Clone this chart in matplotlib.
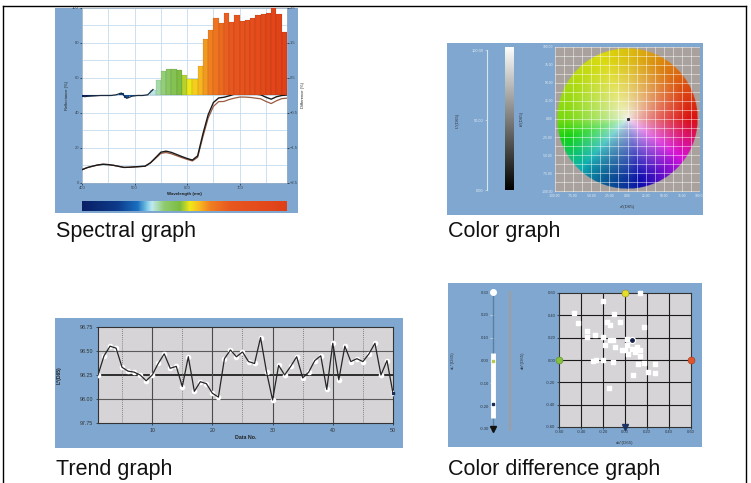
import numpy as np
import matplotlib.pyplot as plt
from matplotlib.colors import LinearSegmentedColormap, Normalize, hsv_to_rgb
from matplotlib.patches import Rectangle
from matplotlib.lines import Line2D

plt.rcParams['font.family'] = ['Liberation Sans', 'DejaVu Sans']

# ---------------- data ----------------
wavelengths = list(range(400, 800, 10))
refl_sample = [7.6, 8.8, 9.6, 10.3, 10.7, 10.5, 10.1, 9.5, 8.9, 9.0,
               9.2, 9.4, 9.6, 11.5, 14.5, 17.6, 18.2, 17.5, 16.3, 15.1,
               14.0, 13.1, 15.5, 28.0, 39.0, 46.0, 48.6, 49.0, 49.8, 50.8,
               51.2, 51.2, 51.1, 50.8, 50.4, 49.0, 47.9, 49.3, 50.0, 50.3]
refl_target = [7.6, 8.8, 9.6, 10.3, 10.7, 10.5, 10.1, 9.5, 8.9, 9.0,
               9.2, 9.4, 9.6, 11.4, 14.1, 16.9, 17.4, 16.7, 15.6, 14.5,
               13.5, 12.6, 14.7, 26.4, 37.1, 43.8, 46.5, 46.6, 47.7, 48.5,
               49.1, 49.1, 48.9, 48.5, 48.1, 46.6, 45.4, 47.0, 48.2, 48.5]
bar_wl = list(range(400, 790, 10))
diff = [-0.03, -0.02, -0.01, 0.0, 0.0, 0.0, 0.02, 0.07, -0.08, -0.02,
        0.0, 0.0, 0.02, 0.17, 0.43, 0.69, 0.76, 0.76, 0.72, 0.59,
        0.48, 0.48, 0.83, 1.61, 1.86, 2.20, 2.06, 2.37, 2.10, 2.31,
        2.12, 2.15, 2.20, 2.31, 2.34, 2.37, 2.49, 2.34, 1.82]

data_no = list(range(1, 51))
trend_L = [98.25, 98.45, 98.55, 98.53, 98.33, 98.29, 98.28, 98.25, 98.19, 98.25,
           98.37, 98.47, 98.32, 98.34, 98.13, 98.44, 98.08, 98.18, 98.16, 98.06,
           98.02, 98.42, 98.51, 98.44, 98.49, 98.39, 98.37, 98.64, 98.28, 97.99,
           98.35, 98.25, 98.34, 98.44, 98.22, 98.28, 98.40, 98.45, 98.10, 98.58,
           98.20, 98.55, 98.39, 98.42, 98.39, 98.47, 98.58, 98.25, 98.40, 98.06]
trend_yticks = [97.75, 98.00, 98.25, 98.50, 98.75]

da = [-0.20, -0.46, -0.43, -0.10, -0.16, -0.14, -0.05, 0.17, -0.35, -0.27,
      -0.35, -0.20, -0.14, -0.11, -0.18, -0.09, 0.02, 0.02, 0.06, 0.11,
      0.14, 0.00, -0.03, 0.09, 0.03, 0.14, -0.26, -0.29, -0.20, -0.11,
      0.12, 0.17, 0.27, 0.21, 0.27, 0.07, -0.15, 0.14]
db = [0.53, 0.42, 0.33, 0.41, 0.34, 0.31, 0.34, 0.30, 0.26, 0.22,
      0.21, 0.21, 0.18, 0.18, 0.13, 0.12, 0.19, 0.13, 0.10, 0.12,
      0.09, 0.09, 0.09, 0.07, 0.05, 0.04, 0.00, -0.01, 0.00, -0.02,
      -0.04, -0.03, -0.04, -0.11, -0.12, -0.13, -0.25, 0.60]
current_ab = (0.06, 0.18)
dL_range = (-0.25, 0.035)
dL_current = -0.19
diff_ticks = [-0.6, -0.4, -0.2, 0.0, 0.2, 0.4, 0.6]
dL_ticks = [-0.3, -0.2, -0.1, 0.0, 0.1, 0.2, 0.3]
ab_ticks = [-100, -75, -50, -25, 0, 25, 50, 75, 100]
L_ticks = [0, 50, 100]

# ---------------- layout helpers ----------------
W, H = 751, 483
PANEL = '#7fa7cf'
fig = plt.figure(figsize=(W / 100, H / 100), dpi=100)
fig.patch.set_facecolor('white')


def rect(x0, y0, x1, y1):
    return [x0 / W, 1 - y1 / H, (x1 - x0) / W, (y1 - y0) / H]


def panel(x0, y0, x1, y1):
    fig.add_artist(Rectangle((x0 / W, 1 - y1 / H), (x1 - x0) / W, (y1 - y0) / H,
                             transform=fig.transFigure, facecolor=PANEL,
                             edgecolor='none', zorder=-1))


def fline(xs, ys, **kw):
    fig.add_artist(Line2D([x / W for x in xs], [1 - y / H for y in ys],
                          transform=fig.transFigure, **kw))


def ftext(x, y, s, **kw):
    fig.text(x / W, 1 - y / H, s, **kw)


panel(55, 8, 298, 213)
panel(447, 43, 703, 215)
panel(55, 318, 403, 448)
panel(448, 283, 702, 447)

# outer frame
fline([3, 746], [6, 6], color='black', lw=1)
fline([3, 3], [6, 483], color='black', lw=1)
fline([746, 746], [6, 483], color='black', lw=1)

small = dict(fontsize=3.2, color='#333840')

# ---------------- spectral graph ----------------
spec_cmap = LinearSegmentedColormap.from_list('spec', [
    (0.0, '#0a1f66'), (0.17, '#0d3a8a'), (0.27, '#1a6fc0'), (0.316, '#7cc8e8'),
    (0.34, '#c0eaf0'), (0.40, '#90cc70'), (0.478, '#7cbc40'), (0.526, '#f0e818'),
    (0.567, '#f8c020'), (0.626, '#f08020'), (0.723, '#e85820'), (1.0, '#e04018')])
wnorm = Normalize(400, 790)

ax = fig.add_axes(rect(82, 8, 287, 183))
ax.set_facecolor('white')
ax.set_xlim(400, 790)
ax.set_ylim(0, 100)
ax.set_xticks([400, 500, 600, 700])
ax.set_xticks([450, 550, 650, 750], minor=True)
ax.set_yticks(range(0, 101, 20))
ax.set_yticks(range(10, 100, 20), minor=True)
ax.grid(which='both', color='#c4dcee', lw=0.6)
ax.set_axisbelow(True)
ax.tick_params(which='both', length=1.2, width=0.4, labelsize=3, labelcolor='#3a4450', pad=1)
ax.tick_params(which='minor', length=0)
for s in ax.spines.values():
    s.set_color('#9ab0c4')
    s.set_linewidth(0.5)
ax.plot(wavelengths, refl_target, color='#9a5a40', lw=0.9, zorder=3)
ax.plot(wavelengths, refl_sample, color='#1a1a1a', lw=1.0, zorder=3)
ax.set_xlabel('Wavelength (nm)', fontsize=3.2, fontweight='bold', color='#222', labelpad=1.5)
ax.set_ylabel('Reflectance (%)', fontsize=3, color='#222', labelpad=2)

ax2 = ax.twinx()
ax2.set_ylim(-2.5, 2.5)
ax2.set_yticks(np.arange(-2.5, 2.6, 1.0))
ax2.tick_params(length=1.2, width=0.4, labelsize=3, labelcolor='#3a4450', pad=1)
for s in ax2.spines.values():
    s.set_visible(False)
bar_colors = [spec_cmap(wnorm(w + 5)) for w in bar_wl]
ax2.bar(bar_wl, diff, width=10, align='edge', color=bar_colors,
        edgecolor='#00000030', lw=0.3, zorder=2)
ax2.plot([w + 5 for w in bar_wl[:14]], diff[:14], color='#1a2a40', lw=0.9, zorder=3)
ax2.set_ylabel('Difference (%)', fontsize=3, color='#222', labelpad=2)

axc = fig.add_axes(rect(82, 201, 287, 211))
axc.imshow(np.linspace(0, 1, 400)[None, :], cmap=spec_cmap, aspect='auto',
           extent=(400, 790, 0, 1))
axc.set_axis_off()

# ---------------- color graph ----------------
axL = fig.add_axes(rect(486, 50, 488, 190))
axL.set_ylim(0, 100)
axL.set_xticks([])
axL.set_yticks(L_ticks)
axL.set_yticklabels(['%.2f' % v for v in L_ticks])
axL.tick_params(length=1.5, width=0.4, color='#dfe8f2', labelsize=2.8,
                labelcolor='#e6eef6', pad=1, direction='inout')
axL.patch.set_alpha(0)
for k, s in axL.spines.items():
    s.set_visible(False)
fline([487, 487], [50, 190], color='#d8e4f0', lw=0.8)
ftext(458, 120, 'L*(D65)', rotation=90, ha='center', va='center', **small)

axg = fig.add_axes(rect(505, 47, 514, 190))
axg.imshow(np.linspace(0, 1, 256)[:, None], cmap='gray', aspect='auto', origin='lower')
axg.set_axis_off()
ftext(522, 118, 'b*(D65)', rotation=90, ha='center', va='center', **small)

axw = fig.add_axes(rect(555, 45, 700, 193))
axw.set_facecolor('#a8a19d')
axw.set_xlim(-100, 100)
axw.set_ylim(-100, 100)
n = 400
g = np.linspace(-100, 100, n)
A, B = np.meshgrid(g, g)
rad = np.hypot(A, B)
theta = np.degrees(np.arctan2(B, A)) % 360
hue = np.interp(theta, [0, 45, 90, 135, 180, 205, 230, 270, 315, 360],
                [0, 28, 52, 68, 88, 135, 185, 225, 285, 360]) / 360.0
sat = 0.92 * np.clip(1.15 * rad / 97.0, 0, 1) ** 0.75
val = 0.95 - 0.1 * sat - 0.3 * sat * np.exp(-((theta - 255) / 40.0) ** 2)
rgb = hsv_to_rgb(np.dstack([hue, sat, val]))
rgba = np.dstack([rgb, (rad <= 97).astype(float)])
axw.imshow(rgba, extent=(-100, 100, -100, 100), origin='lower', zorder=1)
axw.set_xticks(ab_ticks)
axw.set_yticks(ab_ticks)
axw.set_xticks(np.arange(-87.5, 100, 25), minor=True)
axw.set_yticks(np.arange(-87.5, 100, 25), minor=True)
axw.set_xticklabels(['%.2f' % v for v in ab_ticks])
axw.set_yticklabels(['%.2f' % v for v in ab_ticks])
axw.grid(which='both', color='white', lw=0.6, alpha=0.55, zorder=2)
axw.set_axisbelow(False)
axw.tick_params(which='both', length=0, labelsize=2.4, labelcolor='#e6eef6', pad=1.5)
for s in axw.spines.values():
    s.set_visible(False)
axw.plot([0], [0], 's', color='#333', ms=1.2, zorder=3)
ftext(627, 207, 'a*(D65)', ha='center', va='center', **small)

# ---------------- trend graph ----------------
axt = fig.add_axes(rect(98, 327, 393, 423))
axt.set_facecolor('#d6d4d7')
axt.set_xlim(1, 50)
axt.set_ylim(trend_yticks[0], trend_yticks[-1])
axt.set_yticks(trend_yticks)
axt.set_yticklabels(['%.2f' % v for v in trend_yticks])
axt.set_xticks([10, 20, 30, 40, 50])
axt.tick_params(length=1.5, width=0.4, labelsize=3.8, labelcolor='#333', pad=2)
for v in [98.0, 98.5]:
    axt.axhline(v, color='#5a5a5a', lw=0.8, zorder=1)
axt.axhline(98.25, color='#111', lw=1.2, zorder=1)
for v in [10, 20, 30, 40]:
    axt.axvline(v, color='#4a4a4a', lw=0.8, zorder=1)
for v in [5, 15, 25, 35, 45]:
    axt.axvline(v, color='#666', lw=0.6, ls=(0, (1, 1.5)), zorder=1)
for s in axt.spines.values():
    s.set_color('#333')
    s.set_linewidth(0.8)
axt.plot(data_no, trend_L, 'o', color='white', ms=3, mec='white', zorder=3)
axt.plot(data_no, trend_L, color='#262626', lw=0.9, zorder=4)
axt.plot(data_no[-1:], trend_L[-1:], 's', color='#1c2c50', ms=2, zorder=5, clip_on=False)
axt.set_ylabel('L*(D65)', fontsize=3.6, fontweight='bold', color='#222')
axt.yaxis.set_label_coords(-36 / 295, 0.5)
axt.set_xlabel('Data No.', fontsize=3.8, fontweight='bold', color='#222', labelpad=1.5)

# ---------------- color difference graph ----------------
axd = fig.add_axes(rect(492, 292, 494, 429))
axd.set_ylim(-0.3, 0.3)
axd.set_xlim(0, 1)
axd.set_xticks([])
axd.set_yticks(dL_ticks)
axd.set_yticklabels(['%.2f' % v for v in dL_ticks])
axd.tick_params(length=2.5, width=0.4, color='#e8eef4', labelsize=3,
                labelcolor='#2a3440', pad=1, direction='inout')
axd.patch.set_alpha(0)
for s in axd.spines.values():
    s.set_visible(False)
axd.plot([0.5, 0.5], [-0.3, 0.3], color='#5d7f9f', lw=1.0, clip_on=False)
axd.plot([0.5, 0.5], dL_range, color='white', lw=3.5, solid_capstyle='butt', clip_on=False)
axd.plot([0.5], [0.0], 's', color='#b8c850', ms=2, clip_on=False)
axd.plot([0.5], [dL_current], 's', color='#1c2c50', ms=2, clip_on=False)
axd.plot([0.5], [0.3], 'o', color='white', ms=4, clip_on=False)
axd.plot([0.5], [-0.3], 'v', color='#111', ms=4.5, clip_on=False)
fline([510, 510], [292, 430], color='#aa9c92', lw=1.2)
ftext(453, 360, 'dL*(D65)', rotation=90, ha='center', va='center', **small)
ftext(523, 360, 'db*(D65)', rotation=90, ha='center', va='center', **small)

axs = fig.add_axes(rect(559, 293, 691, 427))
axs.set_facecolor('#d6d4d7')
axs.set_xlim(-0.6, 0.6)
axs.set_ylim(-0.6, 0.6)
axs.set_xticks(diff_ticks)
axs.set_yticks(diff_ticks)
axs.set_xticklabels(['%.2f' % v for v in diff_ticks])
axs.set_yticklabels(['%.2f' % v for v in diff_ticks])
axs.tick_params(length=1.5, width=0.4, labelsize=3, labelcolor='#2a3440', pad=1)
for v in diff_ticks[1:-1]:
    axs.axhline(v, color='#1a1a1a', lw=0.8, zorder=1)
    axs.axvline(v, color='#1a1a1a', lw=0.8, zorder=1)
for s in axs.spines.values():
    s.set_color('#333')
    s.set_linewidth(0.8)
axs.scatter(da, db, s=5, marker='s', color='white', zorder=3, clip_on=False)
axs.scatter([current_ab[0]], [current_ab[1]], s=18, color='white', zorder=4)
axs.scatter([current_ab[0]], [current_ab[1]], s=6, color='#13224a', zorder=5)
axs.plot([0], [0.6], 'o', color='#e6dc2a', mec='#9c9420', mew=0.4, ms=5, clip_on=False, zorder=6)
axs.plot([-0.6], [0], 'o', color='#86c040', mec='#5a8a28', mew=0.4, ms=5, clip_on=False, zorder=6)
axs.plot([0.6], [0], 'o', color='#e2542c', mec='#a03818', mew=0.4, ms=5, clip_on=False, zorder=6)
axs.plot([0], [-0.6], 'v', color='#1c3564', ms=5, clip_on=False, zorder=6)
ftext(625, 443, 'da*(D65)', ha='center', va='center', **small)

# ---------------- captions ----------------
cap = dict(fontsize=15.5, color='#111', va='baseline')
ftext(56, 237, 'Spectral graph', **cap)
ftext(448, 237, 'Color graph', **cap)
ftext(56, 475, 'Trend graph', **cap)
ftext(448, 475, 'Color difference graph', **cap)

fig.savefig('out.png', dpi=100)
